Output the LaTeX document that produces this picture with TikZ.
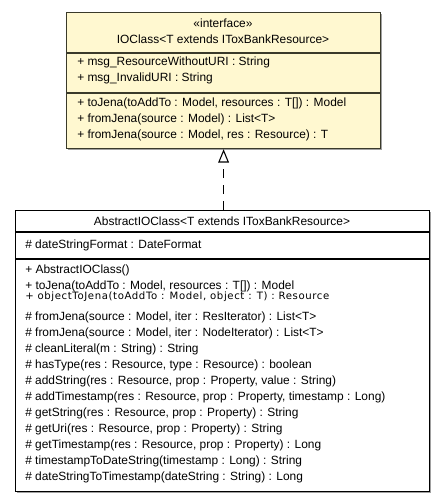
\documentclass[tikz,border=0pt]{standalone}
\usepackage{fontspec}
\setmainfont{Liberation Sans}
\newfontfamily\smallfont[LetterSpace=6]{DejaVu Sans}
\usetikzlibrary{arrows.meta,positioning,calc}

\definecolor{ifacefill}{RGB}{255,248,208}
\definecolor{ifaceline}{RGB}{58,58,42}
\definecolor{shadowgray}{RGB}{160,160,160}

\tikzset{
  umlbox/.style={draw, line width=0.9pt, anchor=north west, inner sep=0pt},
  member/.style={anchor=west, inner sep=0pt, font=\fontsize{8.95}{10}\selectfont},
  title/.style={inner sep=0pt, font=\fontsize{8.95}{10}\selectfont},
  smallmember/.style={anchor=west, inner sep=0pt, font=\smallfont\fontsize{7.6}{8}\selectfont},
}

\begin{document}
\begin{tikzpicture}[x=0.75pt, y=-0.75pt, >=Stealth]
\useasboundingbox (0,0) rectangle (445,501);

% interface box
\fill[shadowgray] (68,14) rectangle (382,150);
\node[umlbox, draw=ifaceline, fill=ifacefill, minimum width=235.5pt, minimum height=102pt] (iface) at (66,12) {};
\draw[ifaceline, line width=0.9pt] (66,53) -- (380,53) (66,93) -- (380,93);
\node[title] (ster) at (223,23) {«interface»};
\node[title] (ifname) at (223,39) {IOClass<T extends IToxBankResource>};
\node[member] (a1) at (77,62) {+ msg\_ResourceWithoutURI : String};
\node[member] (a2) at (77,78) {+ msg\_InvalidURI : String};
\node[member] (m1) at (77,103) {+ toJena(toAddTo : Model, resources : T[]) : Model};
\node[member] (m2) at (77,119) {+ fromJena(source : Model) : List<T>};
\node[member] (m3) at (77,135) {+ fromJena(source : Model, res : Resource) : T};

% abstract class box
\fill[shadowgray] (17,212) rectangle (431,493);
\node[umlbox, draw=black, fill=white, minimum width=310.5pt, minimum height=210.75pt] (abstract) at (15,210) {};
\draw[line width=0.9pt] (15,232) -- (429,232) (15,259) -- (429,259);
\node[title] (absname) at (222,221) {AbstractIOClass<T extends IToxBankResource>};
\node[member] (b1) at (25,245) {\# dateStringFormat : DateFormat};
\node[member] (c1) at (25,270) {+ AbstractIOClass()};
\node[member] (c2) at (25,286) {+ toJena(toAddTo : Model, resources : T[]) : Model};
\node[smallmember] (c3) at (25,297) {+ objectToJena(toAddTo : Model, object : T) : Resource};
\node[member] (c4) at (25,317) {\# fromJena(source : Model, iter : ResIterator) : List<T>};
\node[member] (c5) at (25,333) {\# fromJena(source : Model, iter : NodeIterator) : List<T>};
\node[member] (c6) at (25,349) {\# cleanLiteral(m : String) : String};
\node[member] (c7) at (25,365) {\# hasType(res : Resource, type : Resource) : boolean};
\node[member] (c8) at (25,381) {\# addString(res : Resource, prop : Property, value : String)};
\node[member] (c9) at (25,397) {\# addTimestamp(res : Resource, prop : Property, timestamp : Long)};
\node[member] (c10) at (25,413) {\# getString(res : Resource, prop : Property) : String};
\node[member] (c11) at (25,429) {\# getUri(res : Resource, prop : Property) : String};
\node[member] (c12) at (25,445) {\# getTimestamp(res : Resource, prop : Property) : Long};
\node[member] (c13) at (25,461) {\# timestampToDateString(timestamp : Long) : String};
\node[member] (c14) at (25,477) {\# dateStringToTimestamp(dateString : String) : Long};

% realization
\draw[dashed, dash pattern=on 7pt off 5pt, line width=0.8pt, -{Triangle[open, length=10pt, width=8pt]}] (abstract.north -| iface.south) -- (iface.south);
\end{tikzpicture}
\end{document}
